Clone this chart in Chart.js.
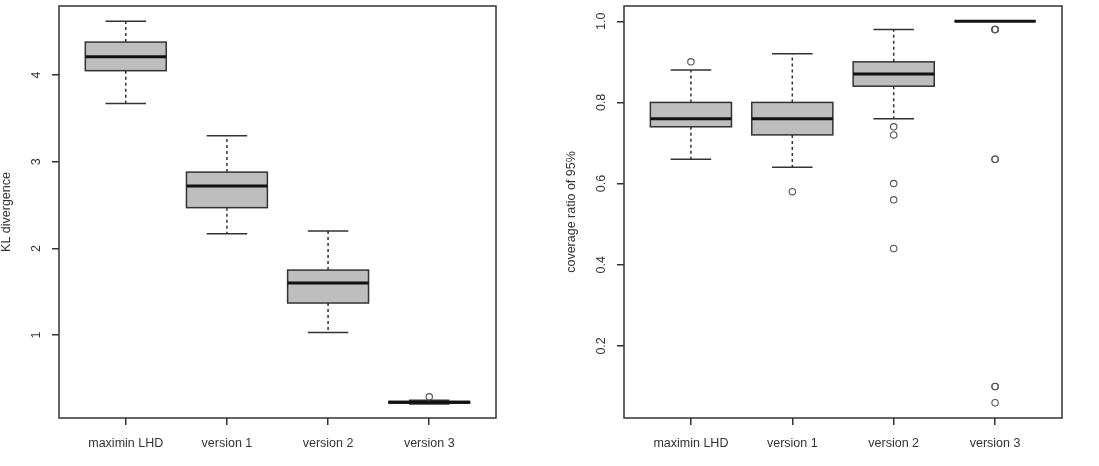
<!DOCTYPE html>
<html>
<head>
<meta charset="utf-8">
<script src="https://cdn.jsdelivr.net/npm/chart.js@4/dist/chart.umd.min.js"></script>
<style>
  body { margin: 0; background: #fff; }
  canvas { position: absolute; top: 0; }
  #klChart { left: 0; }
  #covChart { left: 550px; }
</style>
</head>
<body>
<canvas id="klChart" width="550" height="466"></canvas>
<canvas id="covChart" width="549" height="466"></canvas>
<script>
// boxplots: KL divergence (left) y coverage ratio (right)

const categories = ['maximin LHD', 'version 1', 'version 2', 'version 3'];

// KL divergence
const klLow  = [3.67, 2.17, 1.03, 0.205];
const klQ1   = [4.05, 2.47, 1.37, 0.215];
const klMed  = [4.21, 2.72, 1.60, 0.225];
const klQ3   = [4.38, 2.88, 1.75, 0.235];
const klHigh = [4.62, 3.30, 2.20, 0.25];
const klOutliers = [[], [], [], [0.288]];
const klTicks = [1, 2, 3, 4];

// coverage ratio of 95%
const covLow  = [0.66, 0.64, 0.76, 1.0];
const covQ1   = [0.74, 0.72, 0.84, 1.0];
const covMed  = [0.76, 0.76, 0.87, 1.0];
const covQ3   = [0.80, 0.80, 0.90, 1.0];
const covHigh = [0.88, 0.92, 0.98, 1.0];
const covOutliers = [
  [0.90],
  [0.58],
  [0.74, 0.72, 0.60, 0.56, 0.44],
  [0.98, 0.98, 0.98, 0.66, 0.66, 0.10, 0.10, 0.06],
];
const covTicks = [0.2, 0.4, 0.6, 0.8, 1.0];

const FONT = 'Liberation Sans, Arial, sans-serif';
const FONT_SIZE = 12.5;
const INK = '#333';

// plugin que dibuja cajas, bigotes, medianas, marco y textos del eje y
function crearBoxPlugin(stats, yTicks, tickLabel, title) {
  return {
    id: 'rbox',
    beforeDatasetsDraw(chart) {
      const x = chart.scales.x, y = chart.scales.y;
      const ctx = chart.ctx;
      ctx.save();
      stats.med.forEach((m, i) => {
        const c = x.getPixelForValue(i + 1);
        const bl = x.getPixelForValue(i + 1 - 0.4), br = x.getPixelForValue(i + 1 + 0.4);
        const cl = x.getPixelForValue(i + 1 - 0.2), cr = x.getPixelForValue(i + 1 + 0.2);
        const yLow = y.getPixelForValue(stats.low[i]), yHigh = y.getPixelForValue(stats.high[i]);
        const yQ1 = y.getPixelForValue(stats.q1[i]), yQ3 = y.getPixelForValue(stats.q3[i]);
        const yMed = y.getPixelForValue(m);

        // bigotes punteados
        ctx.strokeStyle = INK;
        ctx.lineWidth = 1.5;
        ctx.setLineDash([3, 3]);
        ctx.beginPath();
        ctx.moveTo(c, yQ3); ctx.lineTo(c, yHigh);
        ctx.moveTo(c, yQ1); ctx.lineTo(c, yLow);
        ctx.stroke();
        ctx.setLineDash([]);

        // topes
        ctx.beginPath();
        ctx.moveTo(cl, yHigh); ctx.lineTo(cr, yHigh);
        ctx.moveTo(cl, yLow); ctx.lineTo(cr, yLow);
        ctx.stroke();

        // caja
        ctx.fillStyle = '#bebebe';
        ctx.fillRect(bl, yQ3, br - bl, yQ1 - yQ3);
        ctx.strokeRect(bl, yQ3, br - bl, yQ1 - yQ3);

        // mediana
        ctx.strokeStyle = '#111';
        ctx.lineWidth = 3;
        ctx.beginPath();
        ctx.moveTo(bl, yMed); ctx.lineTo(br, yMed);
        ctx.stroke();
      });
      ctx.restore();
    },
    afterDraw(chart) {
      const a = chart.chartArea, y = chart.scales.y;
      const ctx = chart.ctx;
      ctx.save();
      // marco del panel
      ctx.strokeStyle = INK;
      ctx.lineWidth = 1.5;
      ctx.strokeRect(a.left, a.top, a.right - a.left, a.bottom - a.top);
      // etiquetas del eje y, rotadas como en R
      ctx.fillStyle = INK;
      ctx.font = FONT_SIZE + 'px ' + FONT;
      ctx.textAlign = 'center';
      ctx.textBaseline = 'middle';
      yTicks.forEach(t => {
        ctx.save();
        ctx.translate(a.left - 22, y.getPixelForValue(t));
        ctx.rotate(-Math.PI / 2);
        ctx.fillText(tickLabel(t), 0, 0);
        ctx.restore();
      });
      // titulo del eje y
      ctx.translate(a.left - 52, (a.top + a.bottom) / 2);
      ctx.rotate(-Math.PI / 2);
      ctx.fillText(title, 0, 0);
      ctx.restore();
    }
  };
}

function dibujarBoxplot(canvasId, stats, outliers, yMin, yMax, yTicks, tickLabel, title, yWidth, rightPad) {
  const pts = [];
  outliers.forEach((list, i) => list.forEach(v => pts.push({ x: i + 1, y: v })));

  return new Chart(document.getElementById(canvasId), {
    type: 'scatter',
    data: {
      datasets: [{
        data: pts,
        pointRadius: 3.2,
        pointBorderColor: '#555',
        pointBackgroundColor: 'rgba(0,0,0,0)',
        pointBorderWidth: 1.1,
      }]
    },
    options: {
      responsive: false,
      animation: false,
      devicePixelRatio: 1,
      layout: { padding: { top: 6, right: rightPad, left: 0, bottom: 0 } },
      plugins: {
        legend: { display: false },
        tooltip: { enabled: false },
      },
      scales: {
        x: {
          type: 'linear',
          min: 0.34,
          max: 4.66,
          afterBuildTicks: s => { s.ticks = categories.map((c, i) => ({ value: i + 1 })); },
          afterFit: s => { s.height = 48; },
          ticks: {
            autoSkip: false,
            maxRotation: 0,
            padding: 11,
            color: INK,
            font: { size: FONT_SIZE, family: FONT },
            callback: v => categories[v - 1],
          },
          grid: { drawOnChartArea: false, drawTicks: true, tickLength: 7, color: INK, lineWidth: 1.5 },
          border: { display: false },
        },
        y: {
          type: 'linear',
          min: yMin,
          max: yMax,
          afterBuildTicks: s => { s.ticks = yTicks.map(v => ({ value: v })); },
          afterFit: s => { s.width = yWidth; },
          ticks: { display: false },
          grid: { drawOnChartArea: false, drawTicks: true, tickLength: 7, color: INK, lineWidth: 1.5 },
          border: { display: false },
        }
      }
    },
    plugins: [crearBoxPlugin(stats, yTicks, tickLabel, title)]
  });
}

dibujarBoxplot('klChart',
  { low: klLow, q1: klQ1, med: klMed, q3: klQ3, high: klHigh },
  klOutliers, 0.044, 4.796, klTicks, t => String(t), 'KL divergence', 59, 54);

dibujarBoxplot('covChart',
  { low: covLow, q1: covQ1, med: covMed, q3: covQ3, high: covHigh },
  covOutliers, 0.0224, 1.0376, covTicks, t => t.toFixed(1), 'coverage ratio of 95%', 74, 37);
</script>
</body>
</html>
